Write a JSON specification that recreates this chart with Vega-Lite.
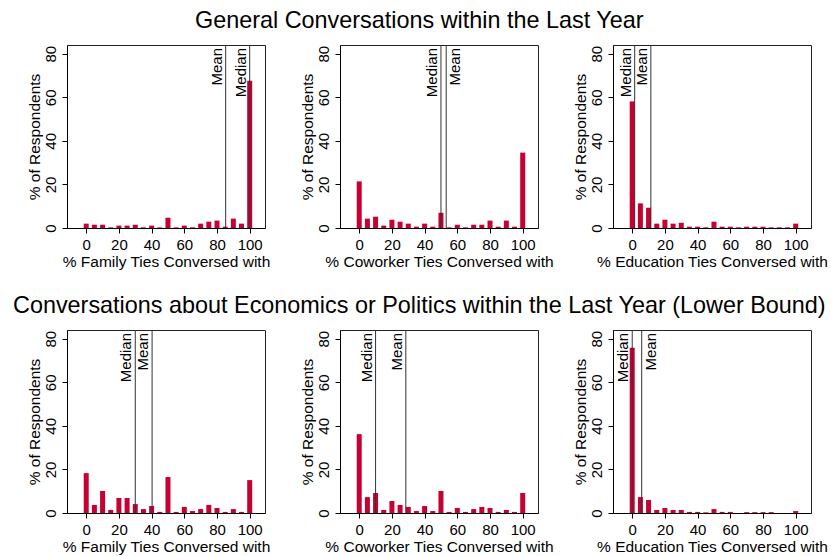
{
  "$schema": "https://vega.github.io/schema/vega-lite/v6.json",
  "padding": {"left": 12, "top": 8, "right": 3, "bottom": 0},
  "background": "white",
  "config": {
    "font": "Liberation Sans",
    "view": {"stroke": "#222", "strokeWidth": 1},
    "axis": {
      "labelFont": "Liberation Sans", "titleFont": "Liberation Sans",
      "labelFontSize": 15, "titleFontSize": 15.5, "titleFontWeight": "normal",
      "labelColor": "#000", "titleColor": "#000", "domainColor": "#000", "tickColor": "#000",
      "grid": false, "tickSize": 5, "labelOverlap": false
    },
    "axisX": {"labelPadding": 4, "titlePadding": 2},
    "axisY": {"labelAngle": 270, "labelPadding": 4, "titlePadding": 1},
    "title": {"font": "Liberation Sans", "fontSize": 23.4, "fontWeight": "normal", "color": "#000"}
  },
  "datasets": {
    "bars": [
      {"panel": "g_fam", "x": 0, "pct": 2.0}, {"panel": "g_fam", "x": 5, "pct": 1.5}, {"panel": "g_fam", "x": 10, "pct": 1.5},
      {"panel": "g_fam", "x": 15, "pct": 0.3}, {"panel": "g_fam", "x": 20, "pct": 1.1}, {"panel": "g_fam", "x": 25, "pct": 1.1},
      {"panel": "g_fam", "x": 30, "pct": 1.5}, {"panel": "g_fam", "x": 35, "pct": 0.3}, {"panel": "g_fam", "x": 40, "pct": 1.1},
      {"panel": "g_fam", "x": 45, "pct": 0.3}, {"panel": "g_fam", "x": 50, "pct": 4.7}, {"panel": "g_fam", "x": 55, "pct": 0.3},
      {"panel": "g_fam", "x": 60, "pct": 1.1}, {"panel": "g_fam", "x": 65, "pct": 0.3}, {"panel": "g_fam", "x": 70, "pct": 2.0},
      {"panel": "g_fam", "x": 75, "pct": 2.9}, {"panel": "g_fam", "x": 80, "pct": 3.4}, {"panel": "g_fam", "x": 85, "pct": 0.6},
      {"panel": "g_fam", "x": 90, "pct": 4.3}, {"panel": "g_fam", "x": 95, "pct": 2.0}, {"panel": "g_fam", "x": 100, "pct": 67.6},

      {"panel": "g_cow", "x": 0, "pct": 21.4}, {"panel": "g_cow", "x": 5, "pct": 4.3}, {"panel": "g_cow", "x": 10, "pct": 5.2},
      {"panel": "g_cow", "x": 15, "pct": 1.1}, {"panel": "g_cow", "x": 20, "pct": 3.8}, {"panel": "g_cow", "x": 25, "pct": 2.9},
      {"panel": "g_cow", "x": 30, "pct": 2.0}, {"panel": "g_cow", "x": 35, "pct": 0.6}, {"panel": "g_cow", "x": 40, "pct": 2.0},
      {"panel": "g_cow", "x": 45, "pct": 0.6}, {"panel": "g_cow", "x": 50, "pct": 7.0}, {"panel": "g_cow", "x": 55, "pct": 0.3},
      {"panel": "g_cow", "x": 60, "pct": 1.5}, {"panel": "g_cow", "x": 65, "pct": 0.3}, {"panel": "g_cow", "x": 70, "pct": 1.5},
      {"panel": "g_cow", "x": 75, "pct": 1.5}, {"panel": "g_cow", "x": 80, "pct": 3.4}, {"panel": "g_cow", "x": 85, "pct": 0.6},
      {"panel": "g_cow", "x": 90, "pct": 3.4}, {"panel": "g_cow", "x": 95, "pct": 0.6}, {"panel": "g_cow", "x": 100, "pct": 34.6},

      {"panel": "g_edu", "x": 0, "pct": 58.1}, {"panel": "g_edu", "x": 5, "pct": 11.3}, {"panel": "g_edu", "x": 10, "pct": 9.3},
      {"panel": "g_edu", "x": 15, "pct": 2.0}, {"panel": "g_edu", "x": 20, "pct": 3.8}, {"panel": "g_edu", "x": 25, "pct": 2.0},
      {"panel": "g_edu", "x": 30, "pct": 2.4}, {"panel": "g_edu", "x": 35, "pct": 0.6}, {"panel": "g_edu", "x": 40, "pct": 0.6},
      {"panel": "g_edu", "x": 45, "pct": 0.3}, {"panel": "g_edu", "x": 50, "pct": 2.9}, {"panel": "g_edu", "x": 55, "pct": 0.6},
      {"panel": "g_edu", "x": 60, "pct": 0.6}, {"panel": "g_edu", "x": 65, "pct": 0.3}, {"panel": "g_edu", "x": 70, "pct": 0.6},
      {"panel": "g_edu", "x": 75, "pct": 0.6}, {"panel": "g_edu", "x": 80, "pct": 0.6}, {"panel": "g_edu", "x": 85, "pct": 0.3},
      {"panel": "g_edu", "x": 90, "pct": 0.3}, {"panel": "g_edu", "x": 95, "pct": 0.3}, {"panel": "g_edu", "x": 100, "pct": 2.0},

      {"panel": "e_fam", "x": 0, "pct": 18.3}, {"panel": "e_fam", "x": 5, "pct": 3.7}, {"panel": "e_fam", "x": 10, "pct": 10.1},
      {"panel": "e_fam", "x": 15, "pct": 1.4}, {"panel": "e_fam", "x": 20, "pct": 6.9}, {"panel": "e_fam", "x": 25, "pct": 6.9},
      {"panel": "e_fam", "x": 30, "pct": 4.1}, {"panel": "e_fam", "x": 35, "pct": 1.8}, {"panel": "e_fam", "x": 40, "pct": 3.2},
      {"panel": "e_fam", "x": 45, "pct": 0.5}, {"panel": "e_fam", "x": 50, "pct": 16.5}, {"panel": "e_fam", "x": 55, "pct": 0.5},
      {"panel": "e_fam", "x": 60, "pct": 2.8}, {"panel": "e_fam", "x": 65, "pct": 0.9}, {"panel": "e_fam", "x": 70, "pct": 1.8},
      {"panel": "e_fam", "x": 75, "pct": 3.7}, {"panel": "e_fam", "x": 80, "pct": 2.3}, {"panel": "e_fam", "x": 85, "pct": 0.5},
      {"panel": "e_fam", "x": 90, "pct": 1.8}, {"panel": "e_fam", "x": 95, "pct": 0.5}, {"panel": "e_fam", "x": 100, "pct": 15.1},

      {"panel": "e_cow", "x": 0, "pct": 36.2}, {"panel": "e_cow", "x": 5, "pct": 7.3}, {"panel": "e_cow", "x": 10, "pct": 9.2},
      {"panel": "e_cow", "x": 15, "pct": 1.4}, {"panel": "e_cow", "x": 20, "pct": 5.5}, {"panel": "e_cow", "x": 25, "pct": 3.7},
      {"panel": "e_cow", "x": 30, "pct": 2.8}, {"panel": "e_cow", "x": 35, "pct": 0.9}, {"panel": "e_cow", "x": 40, "pct": 3.2},
      {"panel": "e_cow", "x": 45, "pct": 0.9}, {"panel": "e_cow", "x": 50, "pct": 10.1}, {"panel": "e_cow", "x": 55, "pct": 0.5},
      {"panel": "e_cow", "x": 60, "pct": 2.3}, {"panel": "e_cow", "x": 65, "pct": 0.5}, {"panel": "e_cow", "x": 70, "pct": 1.8},
      {"panel": "e_cow", "x": 75, "pct": 2.8}, {"panel": "e_cow", "x": 80, "pct": 2.3}, {"panel": "e_cow", "x": 85, "pct": 0.5},
      {"panel": "e_cow", "x": 90, "pct": 1.4}, {"panel": "e_cow", "x": 95, "pct": 0.5}, {"panel": "e_cow", "x": 100, "pct": 9.2},

      {"panel": "e_edu", "x": 0, "pct": 75.8}, {"panel": "e_edu", "x": 5, "pct": 7.3}, {"panel": "e_edu", "x": 10, "pct": 6.0},
      {"panel": "e_edu", "x": 15, "pct": 1.4}, {"panel": "e_edu", "x": 20, "pct": 2.3}, {"panel": "e_edu", "x": 25, "pct": 1.4},
      {"panel": "e_edu", "x": 30, "pct": 1.4}, {"panel": "e_edu", "x": 35, "pct": 0.5}, {"panel": "e_edu", "x": 40, "pct": 0.5},
      {"panel": "e_edu", "x": 45, "pct": 0.3}, {"panel": "e_edu", "x": 50, "pct": 1.8}, {"panel": "e_edu", "x": 55, "pct": 0.5},
      {"panel": "e_edu", "x": 60, "pct": 0.5}, {"panel": "e_edu", "x": 65, "pct": 0}, {"panel": "e_edu", "x": 70, "pct": 0.4},
      {"panel": "e_edu", "x": 75, "pct": 0.4}, {"panel": "e_edu", "x": 80, "pct": 0.4}, {"panel": "e_edu", "x": 85, "pct": 0.4},
      {"panel": "e_edu", "x": 90, "pct": 0}, {"panel": "e_edu", "x": 95, "pct": 0}, {"panel": "e_edu", "x": 100, "pct": 0.9}
    ],
    "stats": [
      {"panel": "g_fam", "stat": "Mean", "x": 85.3}, {"panel": "g_fam", "stat": "Median", "x": 100},
      {"panel": "g_cow", "stat": "Median", "x": 50}, {"panel": "g_cow", "stat": "Mean", "x": 53.2},
      {"panel": "g_edu", "stat": "Median", "x": 1.5}, {"panel": "g_edu", "stat": "Mean", "x": 11.4},
      {"panel": "e_fam", "stat": "Median", "x": 30}, {"panel": "e_fam", "stat": "Mean", "x": 40.3},
      {"panel": "e_cow", "stat": "Median", "x": 10}, {"panel": "e_cow", "stat": "Mean", "x": 28.5},
      {"panel": "e_edu", "stat": "Median", "x": 0}, {"panel": "e_edu", "stat": "Mean", "x": 5.8}
    ]
  },
  "spacing": 23,
  "vconcat": [
    {
      "title": {"text": "General Conversations within the Last Year", "anchor": "middle", "offset": 11, "dx": -8},
      "bounds": "flush",
      "spacing": 75,
      "hconcat": [
        {"width": 198, "height": 183,
         "encoding": {"x": {"field": "x", "type": "quantitative", "scale": {"domain": [-8.7, 106.3], "nice": false, "zero": false}, "axis": {"values": [0, 20, 40, 60, 80, 100], "labelOverlap": false, "title": "% Family Ties Conversed with"}}},
         "layer": [
          {"data": {"name": "bars"}, "transform": [{"filter": "datum.panel === 'g_fam'"}], "mark": {"type": "bar", "size": 5, "color": "#c70032"},
           "encoding": {"y": {"field": "pct", "type": "quantitative", "scale": {"domain": [0, 84], "nice": false}, "axis": {"values": [0, 20, 40, 60, 80], "title": "% of Respondents"}}}},
          {"data": {"name": "stats"}, "transform": [{"filter": "datum.panel === 'g_fam'"}], "mark": {"type": "rule", "color": "#333", "strokeWidth": 1}, "encoding": {}},
          {"data": {"name": "stats"}, "transform": [{"filter": "datum.panel === 'g_fam'"}], "mark": {"type": "text", "angle": 270, "align": "right", "baseline": "bottom", "dx": -3, "dy": -1, "fontSize": 15, "color": "#000"},
           "encoding": {"y": {"datum": 84}, "text": {"field": "stat"}}}
        ]},
        {"width": 198, "height": 183,
         "encoding": {"x": {"field": "x", "type": "quantitative", "scale": {"domain": [-8.7, 106.3], "nice": false, "zero": false}, "axis": {"values": [0, 20, 40, 60, 80, 100], "labelOverlap": false, "title": "% Coworker Ties Conversed with"}}},
         "layer": [
          {"data": {"name": "bars"}, "transform": [{"filter": "datum.panel === 'g_cow'"}], "mark": {"type": "bar", "size": 5, "color": "#c70032"},
           "encoding": {"y": {"field": "pct", "type": "quantitative", "scale": {"domain": [0, 84], "nice": false}, "axis": {"values": [0, 20, 40, 60, 80], "title": "% of Respondents"}}}},
          {"data": {"name": "stats"}, "transform": [{"filter": "datum.panel === 'g_cow'"}], "mark": {"type": "rule", "color": "#333", "strokeWidth": 1}, "encoding": {}},
          {"data": {"name": "stats"}, "transform": [{"filter": "datum.panel === 'g_cow' && datum.stat === 'Median'"}], "mark": {"type": "text", "angle": 270, "align": "right", "baseline": "bottom", "dx": -3, "dy": -1, "fontSize": 15, "color": "#000"},
           "encoding": {"y": {"datum": 84}, "text": {"field": "stat"}}},
          {"data": {"name": "stats"}, "transform": [{"filter": "datum.panel === 'g_cow' && datum.stat === 'Mean'"}], "mark": {"type": "text", "angle": 270, "align": "right", "baseline": "top", "dx": -3, "dy": 2, "fontSize": 15, "color": "#000"},
           "encoding": {"y": {"datum": 84}, "text": {"field": "stat"}}}
        ]},
        {"width": 198, "height": 183,
         "encoding": {"x": {"field": "x", "type": "quantitative", "scale": {"domain": [-8.7, 106.3], "nice": false, "zero": false}, "axis": {"values": [0, 20, 40, 60, 80, 100], "labelOverlap": false, "title": "% Education Ties Conversed with"}}},
         "layer": [
          {"data": {"name": "bars"}, "transform": [{"filter": "datum.panel === 'g_edu'"}], "mark": {"type": "bar", "size": 5, "color": "#c70032"},
           "encoding": {"y": {"field": "pct", "type": "quantitative", "scale": {"domain": [0, 84], "nice": false}, "axis": {"values": [0, 20, 40, 60, 80], "title": "% of Respondents"}}}},
          {"data": {"name": "stats"}, "transform": [{"filter": "datum.panel === 'g_edu'"}], "mark": {"type": "rule", "color": "#333", "strokeWidth": 1}, "encoding": {}},
          {"data": {"name": "stats"}, "transform": [{"filter": "datum.panel === 'g_edu'"}], "mark": {"type": "text", "angle": 270, "align": "right", "baseline": "bottom", "dx": -3, "dy": -1, "fontSize": 15, "color": "#000"},
           "encoding": {"y": {"datum": 84}, "text": {"field": "stat"}}}
        ]}
      ]
    },
    {
      "title": {"text": "Conversations about Economics or Politics within the Last Year (Lower Bound)", "anchor": "middle", "offset": 11, "dx": -8},
      "bounds": "flush",
      "spacing": 75,
      "hconcat": [
        {"width": 198, "height": 183,
         "encoding": {"x": {"field": "x", "type": "quantitative", "scale": {"domain": [-8.7, 106.3], "nice": false, "zero": false}, "axis": {"values": [0, 20, 40, 60, 80, 100], "labelOverlap": false, "title": "% Family Ties Conversed with"}}},
         "layer": [
          {"data": {"name": "bars"}, "transform": [{"filter": "datum.panel === 'e_fam'"}], "mark": {"type": "bar", "size": 5, "color": "#c70032"},
           "encoding": {"y": {"field": "pct", "type": "quantitative", "scale": {"domain": [0, 84], "nice": false}, "axis": {"values": [0, 20, 40, 60, 80], "title": "% of Respondents"}}}},
          {"data": {"name": "stats"}, "transform": [{"filter": "datum.panel === 'e_fam'"}], "mark": {"type": "rule", "color": "#333", "strokeWidth": 1}, "encoding": {}},
          {"data": {"name": "stats"}, "transform": [{"filter": "datum.panel === 'e_fam'"}], "mark": {"type": "text", "angle": 270, "align": "right", "baseline": "bottom", "dx": -3, "dy": -1, "fontSize": 15, "color": "#000"},
           "encoding": {"y": {"datum": 84}, "text": {"field": "stat"}}}
        ]},
        {"width": 198, "height": 183,
         "encoding": {"x": {"field": "x", "type": "quantitative", "scale": {"domain": [-8.7, 106.3], "nice": false, "zero": false}, "axis": {"values": [0, 20, 40, 60, 80, 100], "labelOverlap": false, "title": "% Coworker Ties Conversed with"}}},
         "layer": [
          {"data": {"name": "bars"}, "transform": [{"filter": "datum.panel === 'e_cow'"}], "mark": {"type": "bar", "size": 5, "color": "#c70032"},
           "encoding": {"y": {"field": "pct", "type": "quantitative", "scale": {"domain": [0, 84], "nice": false}, "axis": {"values": [0, 20, 40, 60, 80], "title": "% of Respondents"}}}},
          {"data": {"name": "stats"}, "transform": [{"filter": "datum.panel === 'e_cow'"}], "mark": {"type": "rule", "color": "#333", "strokeWidth": 1}, "encoding": {}},
          {"data": {"name": "stats"}, "transform": [{"filter": "datum.panel === 'e_cow'"}], "mark": {"type": "text", "angle": 270, "align": "right", "baseline": "bottom", "dx": -3, "dy": -1, "fontSize": 15, "color": "#000"},
           "encoding": {"y": {"datum": 84}, "text": {"field": "stat"}}}
        ]},
        {"width": 198, "height": 183,
         "encoding": {"x": {"field": "x", "type": "quantitative", "scale": {"domain": [-8.7, 106.3], "nice": false, "zero": false}, "axis": {"values": [0, 20, 40, 60, 80, 100], "labelOverlap": false, "title": "% Education Ties Conversed with"}}},
         "layer": [
          {"data": {"name": "bars"}, "transform": [{"filter": "datum.panel === 'e_edu'"}], "mark": {"type": "bar", "size": 5, "color": "#c70032"},
           "encoding": {"y": {"field": "pct", "type": "quantitative", "scale": {"domain": [0, 84], "nice": false}, "axis": {"values": [0, 20, 40, 60, 80], "title": "% of Respondents"}}}},
          {"data": {"name": "stats"}, "transform": [{"filter": "datum.panel === 'e_edu'"}], "mark": {"type": "rule", "color": "#333", "strokeWidth": 1}, "encoding": {}},
          {"data": {"name": "stats"}, "transform": [{"filter": "datum.panel === 'e_edu' && datum.stat === 'Median'"}], "mark": {"type": "text", "angle": 270, "align": "right", "baseline": "bottom", "dx": -3, "dy": -1, "fontSize": 15, "color": "#000"},
           "encoding": {"y": {"datum": 84}, "text": {"field": "stat"}}},
          {"data": {"name": "stats"}, "transform": [{"filter": "datum.panel === 'e_edu' && datum.stat === 'Mean'"}], "mark": {"type": "text", "angle": 270, "align": "right", "baseline": "top", "dx": -3, "dy": 2, "fontSize": 15, "color": "#000"},
           "encoding": {"y": {"datum": 84}, "text": {"field": "stat"}}}
        ]}
      ]
    }
  ]
}
